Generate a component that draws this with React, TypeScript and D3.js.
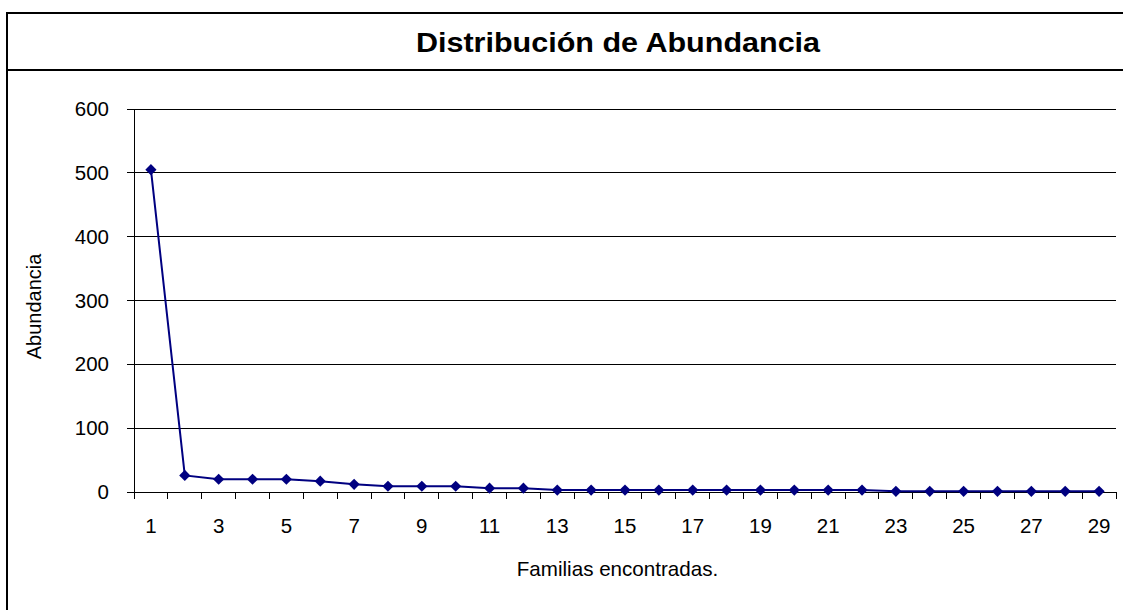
import React from "react";
import * as d3 from "d3";

const categories: string[] = Array.from({ length: 29 }, (_, i) => String(i + 1));
const abundance: number[] = [505, 26, 20, 20, 20, 17, 12, 9, 9, 9, 6, 6, 3, 3, 3, 3, 3, 3, 3, 3, 3, 3, 1, 1, 1, 1, 1, 1, 1];
const yTicks: number[] = [0, 100, 200, 300, 400, 500, 600];
const titleText = "Distribución de Abundancia";
const yTitle = "Abundancia";
const xTitle = "Familias encontradas.";

const W = 1123;
const H = 610;
const left = 134;
const right = 1116;
const top = 109;
const bottom = 492;
const font = "'Liberation Sans', Arial, Helvetica, sans-serif";

export default function App() {
  const x = d3.scaleBand<string>().domain(categories).range([left, right]).padding(0);
  const y = d3.scaleLinear().domain([0, 600]).range([bottom, top]);
  const cx = (c: string) => (x(c) as number) + x.bandwidth() / 2;
  const pts = categories.map((c, i) => [cx(c), y(abundance[i])] as [number, number]);
  const line = d3.line()(pts) as string;
  const boundaries = d3.range(categories.length + 1).map((i) => left + i * x.step());
  const r = 5.6;

  return (
    <svg width={W} height={H} style={{ position: "absolute", left: 0, top: 0, display: "block", background: "#fff" }}>
      {/* outer frame */}
      <line x1={7} y1={13} x2={W + 5} y2={13} stroke="#000" strokeWidth={2} />
      <line x1={7} y1={12} x2={7} y2={H + 5} stroke="#000" strokeWidth={2} />
      <line x1={7} y1={70} x2={W + 5} y2={70} stroke="#000" strokeWidth={2} />
      <text
        transform={`translate(618,52) scale(1.11,1)`}
        textAnchor="middle"
        fontFamily={font}
        fontWeight="bold"
        fontSize={27.5}
        fill="#000"
      >
        {titleText}
      </text>

      {/* gridlines and y ticks */}
      {yTicks.map((t) => (
        <g key={t}>
          {t > 0 && <line x1={left} x2={right} y1={y(t)} y2={y(t)} stroke="#000" strokeWidth={1} shapeRendering="crispEdges" />}
          <line x1={left - 7} x2={left} y1={y(t)} y2={y(t)} stroke="#000" strokeWidth={1} shapeRendering="crispEdges" />
          <text x={109} y={y(t) + 7} textAnchor="end" fontFamily={font} fontSize={20.5} fill="#000">
            {t}
          </text>
        </g>
      ))}

      {/* axes */}
      <line x1={left} x2={left} y1={top} y2={bottom} stroke="#000" strokeWidth={1} shapeRendering="crispEdges" />
      <line x1={left} x2={right} y1={bottom} y2={bottom} stroke="#000" strokeWidth={1} shapeRendering="crispEdges" />
      {boundaries.map((b, i) => (
        <line key={i} x1={b} x2={b} y1={bottom} y2={bottom + 7} stroke="#000" strokeWidth={1} shapeRendering="crispEdges" />
      ))}
      {categories.map((c, i) =>
        i % 2 === 0 ? (
          <text key={c} x={cx(c)} y={bottom + 40.7} textAnchor="middle" fontFamily={font} fontSize={20.5} fill="#000">
            {c}
          </text>
        ) : null
      )}

      {/* axis titles */}
      <text
        transform={`translate(41,306.5) rotate(-90)`}
        textAnchor="middle"
        fontFamily={font}
        fontSize={20}
        fill="#000"
      >
        {yTitle}
      </text>
      <text x={617.5} y={576} textAnchor="middle" fontFamily={font} fontSize={20.6} fill="#000">
        {xTitle}
      </text>

      {/* series */}
      <path d={line} fill="none" stroke="#000080" strokeWidth={2} />
      {pts.map(([px, py], i) => (
        <path key={i} d={`M${px},${py - r}L${px + r},${py}L${px},${py + r}L${px - r},${py}Z`} fill="#000080" />
      ))}
    </svg>
  );
}
